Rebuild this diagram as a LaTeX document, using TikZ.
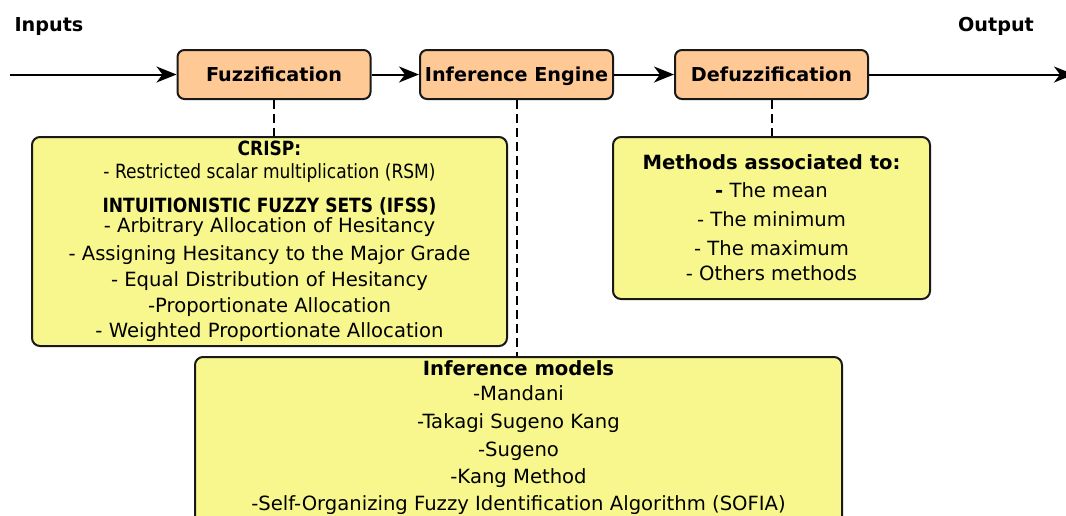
\documentclass[tikz,border=0pt]{standalone}
\usepackage{fontspec}
\setmainfont{DejaVu Sans}
\newfontfamily\condfont[FakeStretch=0.87]{DejaVu Sans}
\usetikzlibrary{arrows.meta}
\definecolor{stagefill}{RGB}{255,201,150}
\definecolor{notefill}{RGB}{247,247,141}
\tikzset{
  stage/.style={draw=black!90, fill=stagefill, rounded corners=3.5pt, line width=1pt,
    minimum width=96.5pt, minimum height=24.5pt, inner sep=0pt,
    text height=7.3pt, text depth=0pt,
    font=\fontsize{9.6}{12}\selectfont\bfseries},
  note/.style={draw=black!90, fill=notefill, rounded corners=4pt, line width=1pt,
    align=center, inner sep=2pt, font=\fontsize{9.8}{12.5}\selectfont},
  flow/.style={line width=1pt, -{Stealth[length=10pt,width=8pt,inset=3pt]}},
  link/.style={line width=1pt, dash pattern=on 4.5pt off 2.5pt},
  tag/.style={font=\fontsize{9.6}{12}\selectfont\bfseries},
}

\begin{document}
\begin{tikzpicture}[x=0.5pt,y=-0.5pt]
    \useasboundingbox (0,0) rectangle (1066,515);

    \node[tag] (inlbl)  at (49,26)  {Inputs};
    \node[tag] (outlbl) at (996,26) {Output};

    \node[stage] (fuzz)   at (274,74.5)   {Fuzzification};
    \node[stage] (infer)  at (516.5,74.5) {Inference Engine};
    \node[stage] (defuzz) at (771.5,74.5) {Defuzzification};

    \coordinate (src) at (10,74.5);
    \coordinate (dst) at (1074,74.5);

    \draw[flow] (src)    -- (fuzz);
    \draw[flow] (fuzz)   -- (infer);
    \draw[flow] (infer)  -- (defuzz);
    \draw[flow] (defuzz) -- (dst);

    % fuzzification methods
    \node[note, minimum width=237.5pt, minimum height=104.5pt] (crisp) at (269.5,241.5)
      {{\condfont\bfseries CRISP:}\\[-1pt]
       {\condfont - Restricted scalar multiplication (RSM)}\\[4.5pt]
       {\condfont\bfseries INTUITIONISTIC FUZZY SETS (IFSS)}\\[-2.5pt]
       - Arbitrary Allocation of Hesitancy\\[1.5pt]
       - Assigning Hesitancy to the Major Grade\\[.5pt]
       - Equal Distribution of Hesitancy\\[.5pt]
       -Proportionate Allocation\\
       - Weighted Proportionate Allocation};

    % defuzzification methods
    \node[note, minimum width=158.5pt, minimum height=81pt] (defmeth) at (771.5,218)
      {{\bfseries Methods associated to:}\\[1.5pt]
       {\bfseries -} The mean\\[2pt]
       - The minimum\\[2pt]
       - The maximum\\
       - Others methods};

    % inference models, cut by the bottom edge
    \node[note, anchor=north, minimum width=323.5pt, text depth=14pt] (models) at (518.5,356)
      {{\bfseries Inference models}\\
       -Mandani\\[1.5pt]
       -Takagi Sugeno Kang\\[1.5pt]
       -Sugeno\\[1pt]
       -Kang Method\\[1pt]
       -Self-Organizing Fuzzy Identification Algorithm (SOFIA)};

    \draw[link] (fuzz.south)   -- (fuzz.south |- crisp.north);
    \draw[link] (infer.south)  -- (infer.south |- models.north);
    \draw[link] (defuzz.south) -- (defuzz.south |- defmeth.north);
  \end{tikzpicture}
\end{document}
